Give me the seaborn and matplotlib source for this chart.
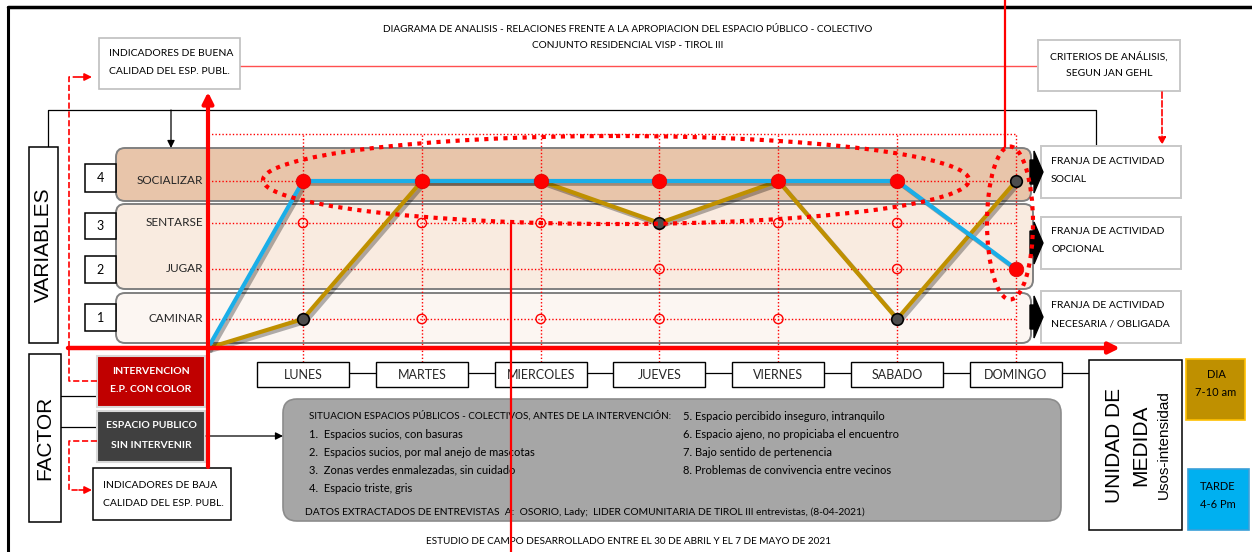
import numpy as np
import matplotlib
matplotlib.use('Agg')
import matplotlib.pyplot as plt
import matplotlib.patheffects as pe
from matplotlib.patches import Rectangle, FancyBboxPatch, Ellipse, Polygon
import seaborn as sns

# --- data -------------------------------------------------------------
days = ['LUNES', 'MARTES', 'MIERCOLES', 'JUEVES', 'VIERNES', 'SABADO', 'DOMINGO']
level_names = ['CAMINAR', 'JUGAR', 'SENTARSE', 'SOCIALIZAR']
levels = [1, 2, 3, 4]
dia = [1, 4, 4, 3, 4, 1, 4]        # DIA 7-10 am
tarde = [4, 4, 4, 4, 4, 4, 2]      # TARDE 4-6 Pm
# empty option circles (day number, level)
open_day = [1, 2, 3, 5, 6, 4, 6, 2, 3, 4, 5]
open_level = [3, 3, 3, 3, 3, 2, 2, 1, 1, 1, 1]

situacion_left = ['1.  Espacios sucios, con basuras',
                  '2.  Espacios sucios, por mal anejo de mascotas',
                  '3.  Zonas verdes enmalezadas, sin cuidado',
                  '4.  Espacio triste, gris']
situacion_right = ['5. Espacio percibido inseguro, intranquilo',
                   '6. Espacio ajeno, no propiciaba el encuentro',
                   '7. Bajo sentido de pertenencia',
                   '8. Problemas de convivencia entre vecinos']

sns.set_style('white')
NARROW = ['Lato', 'DejaVu Sans']
WIDE = ['Liberation Sans', 'DejaVu Sans']
plt.rcParams['font.family'] = NARROW

RED = '#ff0000'
GOLD = '#bf9000'
BLUE = '#1aaee8'

fig = plt.figure(figsize=(12.52, 5.52), dpi=100)
bg = fig.add_axes([0, 0, 1, 1])
bg.set_xlim(0, 1252)
bg.set_ylim(552, 0)
bg.set_axis_off()


def t(x, y, s, size=7.5, ha='left', color='black', ax=None, **kw):
    (ax or bg).text(x, y, s, fontsize=size, ha=ha, va='center', color=color, **kw)


def box(x0, y0, x1, y1, fc='white', ec='black', lw=1.1, z=2):
    bg.add_patch(Rectangle((x0, y0), x1 - x0, y1 - y0, fc=fc, ec=ec, lw=lw, zorder=z))


def rbox(x0, y0, x1, y1, fc, ec='#808080', r=9, lw=1.4, z=2):
    bg.add_patch(FancyBboxPatch((x0, y0), x1 - x0, y1 - y0,
                                boxstyle='round,pad=0,rounding_size=%d' % r,
                                fc=fc, ec=ec, lw=lw, zorder=z))


def arrow(p0, p1, color='black', lw=1, ls='-', ms=10, ax=None, z=3):
    (ax or bg).annotate('', xy=p1, xytext=p0, zorder=z,
                        arrowprops=dict(arrowstyle='-|>', color=color, lw=lw, ls=ls,
                                        mutation_scale=ms, shrinkA=0, shrinkB=0))


# frame
bg.plot([8, 1252], [7, 7], color='black', lw=2.5)
bg.plot([8, 8], [7, 552], color='black', lw=2.2)

# title
t(628, 29, 'DIAGRAMA DE ANALISIS - RELACIONES FRENTE A LA APROPIACION DEL ESPACIO PÚBLICO - COLECTIVO',
  size=7.2, ha='center')
t(628, 46, 'CONJUNTO RESIDENCIAL VISP - TIROL III', size=7.2, ha='center')
t(628, 541, 'ESTUDIO DE CAMPO DESARROLLADO ENTRE EL 30 DE ABRIL Y EL 7 DE MAYO DE 2021',
  size=7.2, ha='center')

# top boxes and connectors
bg.plot([240, 1038], [66, 66], color='#ff5050', lw=1)
box(99, 38, 240, 89, ec='#bfbfbf', lw=1.2)
t(109, 53, 'INDICADORES DE BUENA')
t(109, 72, 'CALIDAD DEL ESP. PUBL.')
box(1038, 40, 1180, 91, ec='#c8c8c8', lw=1.4)
t(1109, 57, 'CRITERIOS DE ANÁLISIS,', ha='center')
t(1109, 74, 'SEGUN JAN GEHL', ha='center')
arrow((1162, 92), (1162, 145), color=RED, ls='--', lw=1.2, ms=11)

bg.plot([48, 48, 1096, 1096], [147, 110, 110, 146], color='black', lw=0.9)
arrow((171, 110), (171, 148), lw=0.9, ms=11)

# bands
rbox(116, 148, 1031, 201, '#e8c5aa')
rbox(116, 204, 1033, 289, '#f9ebe0')
rbox(116, 293, 1031, 343, '#fcf6f2')

for y0, y1, txt in [(146, 198, ['FRANJA DE ACTIVIDAD', 'SOCIAL']),
                    (217, 269, ['FRANJA DE ACTIVIDAD', 'OPCIONAL']),
                    (291, 343, ['FRANJA DE ACTIVIDAD', 'NECESARIA / OBLIGADA'])]:
    box(1041, y0, 1181, y1, ec='#c8c8c8', lw=1.4)
    t(1051, y0 + 15, txt[0])
    t(1051, y0 + 33, txt[1])
    yc = (y0 + y1) / 2
    bg.add_patch(Polygon([(1030, yc - 12), (1034, yc - 12), (1034, yc - 21), (1043, yc),
                          (1034, yc + 21), (1034, yc + 12), (1030, yc + 12)],
                         fc='black', ec='black', zorder=4))

# left labels
box(29, 147, 58, 343)
t(43, 245, 'VARIABLES', size=15, ha='center', rotation=90, family=WIDE)
box(29, 354, 61, 522)
t(45, 438, 'FACTOR', size=15, ha='center', rotation=90, family=WIDE)
for (y0, y1), n in zip([(304, 331), (256, 283), (213, 239), (164, 192)], levels):
    box(85, y0, 116, y1)
    t(100.5, (y0 + y1) / 2, str(n), size=9, ha='center')

bg.plot([61, 97], [396, 396], color='black', lw=0.9)
bg.plot([61, 97], [427, 427], color='black', lw=0.9)
box(97, 356, 205, 407, fc='#c00000', ec='#d9d9d9', lw=1.5)
t(151, 371, 'INTERVENCION', size=7.5, ha='center', color='white', weight='bold')
t(151, 389, 'E.P. CON COLOR', size=7.5, ha='center', color='white', weight='bold')
box(97, 411, 205, 462, fc='#404040', ec='#d9d9d9', lw=1.5)
t(151, 426, 'ESPACIO PUBLICO', size=7.5, ha='center', color='white', weight='bold')
t(151, 445, 'SIN INTERVENIR', size=7.5, ha='center', color='white', weight='bold')
box(93, 468, 231, 520)
t(103, 485, 'INDICADORES DE BAJA')
t(103, 504, 'CALIDAD DEL ESP. PUBL.')

bg.plot([97, 69, 69, 80], [381, 381, 77, 77], color=RED, lw=1.2, ls='--')
arrow((79, 77), (92, 77), color=RED, lw=1.2, ms=11)
bg.plot([97, 69, 69, 80], [441, 441, 490, 490], color=RED, lw=1.2, ls='--')
arrow((79, 490), (92, 490), color=RED, lw=1.2, ms=11)

arrow((206, 436), (283, 436), lw=0.9, ms=11)

# situation box
rbox(283, 399, 1061, 521, '#a6a6a6', ec='#8c8c8c', r=14, lw=1.2)
t(309, 416, 'SITUACION ESPACIOS PÚBLICOS - COLECTIVOS, ANTES DE LA INTERVENCIÓN:', size=7.1)
for i, (a, b) in enumerate(zip(situacion_left, situacion_right)):
    t(309, 435 + i * 17.7, a, size=8)
    t(683, 416 + i * 18, b, size=8)
t(305, 512, 'DATOS EXTRACTADOS DE ENTREVISTAS  A:  OSORIO, Lady;  LIDER COMUNITARIA DE TIROL III entrevistas, (8-04-2021)',
  size=7.4)

# unit boxes
bg.plot([1062, 1089], [373, 373], color='black', lw=0.9)
box(1089, 360, 1182, 530)
t(1114, 445, 'UNIDAD DE', size=15, ha='center', rotation=90, family=WIDE)
t(1141, 445, 'MEDIDA', size=15, ha='center', rotation=90, family=WIDE)
t(1164, 445, 'Usos-intensidad', size=11, ha='center', rotation=90, family=WIDE)
box(1186, 359, 1245, 420, fc=GOLD, ec='#ffc000', lw=1.2)
t(1216, 374, 'DIA', ha='center', size=8)
t(1216, 393, '7-10 am', ha='center', size=8)
box(1188, 469, 1249, 530, fc='#00b0f0', ec='#3a9fd8', lw=1.2)
t(1218, 486, 'TARDE', ha='center', size=8)
t(1218, 504, '4-6 Pm', ha='center', size=8)

# --- data axes: piecewise scale so the grid matches the original spacing ---
X0, Y0, X1, Y1 = 208, 348, 1118, 95
x_anchor = [-10, 0, 1, 7, 20]
x_px = [-950, 0, 95, 808, 808 + 13 * 118.8]
y_anchor = [-10, 0, 1, 2, 3, 4, 20]
y_px = [-290, 0, 29, 79, 125, 167, 167 + 16 * 45]


def xf(v):
    return np.interp(v, x_anchor, x_px)


def xi(p):
    return np.interp(p, x_px, x_anchor)


def yf(v):
    return np.interp(v, y_anchor, y_px)


def yi(p):
    return np.interp(p, y_px, y_anchor)


ax = fig.add_axes([X0 / 1252, (552 - Y0) / 552, (X1 - X0) / 1252, (Y0 - Y1) / 552])
ax.patch.set_alpha(0)
ax.set_xscale('function', functions=(xf, xi))
ax.set_yscale('function', functions=(yf, yi))

xs = list(range(1, len(days) + 1))
H = Y0 - Y1
frac = lambda py: (Y0 - py) / H
xt = ax.get_xaxis_transform()

# dotted guide grid
dot = dict(color=RED, lw=1, ls=(0, (1, 1.5)))
ax.vlines(xs, frac(362), frac(134), transform=xt, clip_on=False, **dot)
ax.plot([0, 7], [frac(134)] * 2, transform=xt, clip_on=False, **dot)
ax.hlines(levels, 0, 7, clip_on=False, **dot)
for lv, name in zip(levels, level_names):
    ax.text(xi(-5), lv, name, ha='right', va='center', fontsize=8.5, clip_on=False)

shadow = [pe.SimpleLineShadow(offset=(2, -2), shadow_color='black', alpha=0.3), pe.Normal()]
sns.lineplot(x=[0] + xs, y=[0] + dia, ax=ax, color=GOLD, lw=3, sort=False,
             path_effects=shadow, clip_on=False)
sns.lineplot(x=[0] + xs, y=[0] + tarde, ax=ax, color=BLUE, lw=3, sort=False,
             path_effects=shadow, clip_on=False)
sns.scatterplot(x=open_day, y=open_level, ax=ax, s=45, facecolor='none',
                edgecolor=RED, linewidth=1, clip_on=False, zorder=5)
sns.scatterplot(x=xs, y=tarde, ax=ax, s=110, color=RED, edgecolor='#e00000',
                linewidth=0.5, clip_on=False, zorder=6)
sns.scatterplot(x=xs, y=dia, ax=ax, s=70, color='#4d4d4d', edgecolor='black',
                linewidth=1.2, clip_on=False, zorder=5.5)

# day boxes
for i, d in zip(xs, days):
    l, r = xi(xf(i) - 46), xi(xf(i) + 46)
    ax.add_patch(Rectangle((l, frac(387)), r - l, frac(362) - frac(387), transform=xt,
                           fc='white', ec='black', lw=1, clip_on=False, zorder=4))
    ax.text(i, frac(375), d, transform=xt, ha='center', va='center', fontsize=9, zorder=5)
    if i < len(days):
        ax.plot([r, xi(xf(i + 1) - 46)], [frac(373)] * 2, transform=xt,
                color='black', lw=0.9, clip_on=False)

ax.set_xlim(0, xi(X1 - X0))
ax.set_ylim(0, yi(Y0 - Y1))
ax.set_axis_off()

# --- overlay: red axes, highlight ellipses, call-out lines ---
ov = fig.add_axes([0, 0, 1, 1])
ov.set_xlim(0, 1252)
ov.set_ylim(552, 0)
ov.set_axis_off()
ov.patch.set_alpha(0)
arrow((68, 348), (1120, 348), color=RED, lw=3.2, ms=16, ax=ov)
arrow((208, 467), (208, 92), color=RED, lw=3, ms=16, ax=ov)
ov.add_patch(Ellipse((616, 180), 706, 88, fill=False, ec=RED, lw=3, ls=(0, (1, 1.3))))
ov.add_patch(Ellipse((1010, 223), 46, 153, fill=False, ec=RED, lw=3, ls=(0, (1, 1.3))))
ov.plot([1005, 1005], [0, 147], color=RED, lw=1.6)
ov.plot([511, 511], [224, 552], color=RED, lw=1.6)

fig.savefig('out.png', dpi=100)
